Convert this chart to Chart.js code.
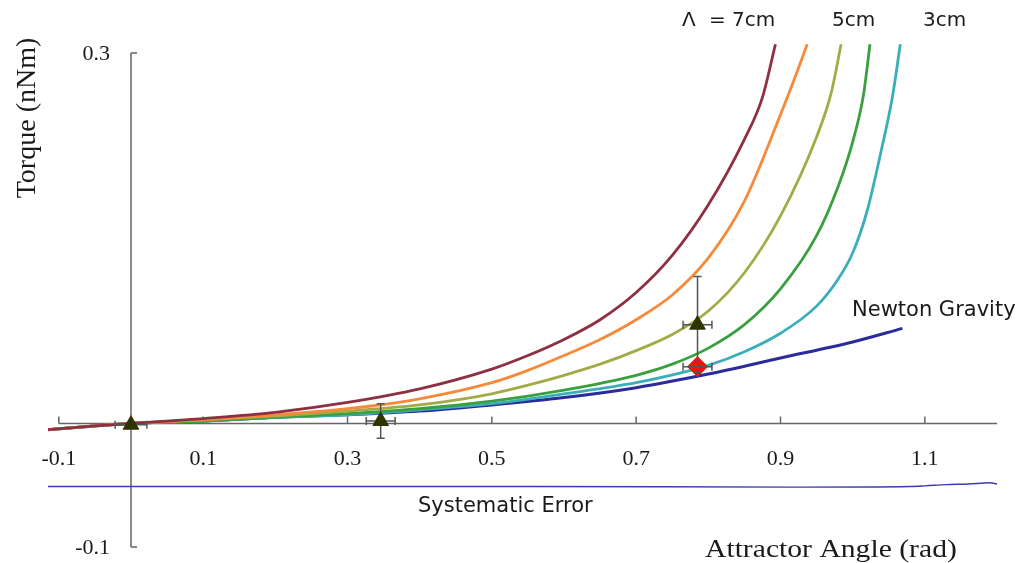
<!DOCTYPE html>
<html>
<head>
<meta charset="utf-8">
<script src="https://cdn.jsdelivr.net/npm/chart.js@4"></script>
<style>
  body { margin: 0; background: #fff; }
  canvas { display: block; }
</style>
</head>
<body>
<canvas id="c" width="1021" height="563"></canvas>
<script>
// tick labels
var xTicks = [-0.1, 0.1, 0.3, 0.5, 0.7, 0.9, 1.1];
var yTicks = [0.3, -0.1];

// Yukawa curves, lambda = 7cm ... 3cm
var lam7X = [-0.115, -0.05, 0, 0.1, 0.2, 0.3, 0.4, 0.5, 0.55, 0.6, 0.65, 0.7, 0.75, 0.8, 0.85, 0.875, 0.893];
var lam7Y = [-0.005, -0.002, 0, 0.004, 0.009, 0.017, 0.028, 0.044, 0.055, 0.068, 0.084, 0.106, 0.136, 0.177, 0.230, 0.264, 0.307];
var lam6X = [-0.115, -0.05, 0, 0.1, 0.2, 0.3, 0.4, 0.5, 0.55, 0.6, 0.65, 0.7, 0.75, 0.8, 0.85, 0.9, 0.92, 0.937];
var lam6Y = [-0.005, -0.002, 0, 0.003, 0.007, 0.012, 0.020, 0.033, 0.043, 0.055, 0.068, 0.084, 0.104, 0.134, 0.180, 0.250, 0.280, 0.307];
var lam5X = [-0.115, -0.05, 0, 0.1, 0.2, 0.3, 0.4, 0.5, 0.55, 0.6, 0.65, 0.7, 0.75, 0.8, 0.85, 0.9, 0.95, 0.97, 0.984];
var lam5Y = [-0.005, -0.002, 0, 0.003, 0.006, 0.010, 0.015, 0.024, 0.031, 0.039, 0.048, 0.059, 0.072, 0.091, 0.122, 0.168, 0.232, 0.267, 0.307];
var lam4X = [-0.115, -0.05, 0, 0.1, 0.2, 0.3, 0.4, 0.5, 0.6, 0.7, 0.75, 0.8, 0.85, 0.9, 0.95, 0.98, 1.0, 1.015, 1.024];
var lam4Y = [-0.005, -0.002, 0, 0.002, 0.005, 0.008, 0.012, 0.018, 0.027, 0.039, 0.048, 0.061, 0.080, 0.109, 0.152, 0.192, 0.228, 0.266, 0.307];
var lam3X = [-0.115, -0.05, 0, 0.1, 0.2, 0.3, 0.4, 0.5, 0.6, 0.7, 0.8, 0.85, 0.9, 0.95, 0.98, 1.0, 1.02, 1.04, 1.055, 1.066];
var lam3Y = [-0.005, -0.002, 0, 0.002, 0.005, 0.007, 0.011, 0.016, 0.024, 0.033, 0.047, 0.058, 0.073, 0.095, 0.117, 0.138, 0.172, 0.222, 0.264, 0.307];

var newtonX = [-0.115, -0.05, 0, 0.1, 0.2, 0.3, 0.4, 0.5, 0.6, 0.7, 0.8, 0.9, 1.0, 1.069];
var newtonY = [-0.005, -0.002, 0, 0.002, 0.005, 0.007, 0.010, 0.015, 0.021, 0.029, 0.040, 0.053, 0.066, 0.077];

var sysX = [-0.115, 0.55, 0.92, 1.08, 1.1, 1.13, 1.16, 1.19, 1.2];
var sysY = [-0.051, -0.051, -0.0515, -0.051, -0.0505, -0.0495, -0.049, -0.048, -0.049];

// measurements
var measX = [0, 0.346, 0.785];
var measY = [-0.001, 0.002, 0.080];
var measXErr = [0.022, 0.02, 0.02];
var measYErr = [0, 0.014, 0.039];
var diamondX = [0.785];
var diamondY = [0.046];
var diamondXErr = [0.02];

function pts(xs, ys) {
    return xs.map(function (x, i) { return {x: x, y: ys[i]}; });
}

function curve(label, xs, ys, color, width) {
    return {
        label: label,
        data: pts(xs, ys),
        borderColor: color,
        borderWidth: width,
        pointRadius: 0,
        fill: false,
        cubicInterpolationMode: 'monotone',
        showLine: true
    };
}

var serif = '"Liberation Serif", "DejaVu Serif", serif';
var sans = '"DejaVu Sans", sans-serif';

function text(ctx, str, x, y, font, align, stretch) {
    ctx.save();
    ctx.font = font;
    ctx.fillStyle = '#1a1a1a';
    ctx.textAlign = align || 'left';
    ctx.textBaseline = 'middle';
    ctx.translate(x, y);
    ctx.scale(stretch || 1, 1);
    ctx.fillText(str, 0, 0);
    ctx.restore();
}

var axesPlugin = {
    id: 'axes',
    beforeDatasetsDraw: function (chart) {
        var ctx = chart.ctx, sx = chart.scales.x, sy = chart.scales.y;
        var x0 = sx.getPixelForValue(0), y0 = sy.getPixelForValue(0);
        ctx.save();
        ctx.strokeStyle = '#666';
        ctx.lineWidth = 1.5;
        ctx.beginPath();
        ctx.moveTo(sx.getPixelForValue(-0.1), y0);
        ctx.lineTo(chart.chartArea.right, y0);
        xTicks.forEach(function (t) {
            var px = sx.getPixelForValue(t);
            ctx.moveTo(px, y0);
            ctx.lineTo(px, y0 - 7);
        });
        ctx.moveTo(x0, sy.getPixelForValue(yTicks[0]));
        ctx.lineTo(x0, sy.getPixelForValue(yTicks[1]));
        yTicks.forEach(function (t) {
            var py = sy.getPixelForValue(t);
            ctx.moveTo(x0, py);
            ctx.lineTo(x0 + 6, py);
        });
        ctx.stroke();
        ctx.restore();
    },
    beforeDatasetDraw: function (chart, args) {
        if (args.index !== 0) return;
        var ctx = chart.ctx, sx = chart.scales.x, sy = chart.scales.y;
        ctx.save();
        ctx.strokeStyle = '#555';
        ctx.lineWidth = 1.5;
        ctx.beginPath();
        function hbar(x, y, e) {
            var py = sy.getPixelForValue(y);
            var a = sx.getPixelForValue(x - e), b = sx.getPixelForValue(x + e);
            ctx.moveTo(a, py); ctx.lineTo(b, py);
            ctx.moveTo(a, py - 4); ctx.lineTo(a, py + 4);
            ctx.moveTo(b, py - 4); ctx.lineTo(b, py + 4);
        }
        function vbar(x, y, e) {
            if (!e) return;
            var px = sx.getPixelForValue(x);
            var a = sy.getPixelForValue(y - e), b = sy.getPixelForValue(y + e);
            ctx.moveTo(px, a); ctx.lineTo(px, b);
            ctx.moveTo(px - 4, a); ctx.lineTo(px + 4, a);
            ctx.moveTo(px - 4, b); ctx.lineTo(px + 4, b);
        }
        measX.forEach(function (x, i) {
            hbar(x, measY[i], measXErr[i]);
            vbar(x, measY[i], measYErr[i]);
        });
        diamondX.forEach(function (x, i) { hbar(x, diamondY[i], diamondXErr[i]); });
        ctx.stroke();
        ctx.restore();
    },
    afterDraw: function (chart) {
        var ctx = chart.ctx, sx = chart.scales.x, sy = chart.scales.y;
        var x0 = sx.getPixelForValue(0), y0 = sy.getPixelForValue(0);
        xTicks.forEach(function (t) {
            text(ctx, String(t), sx.getPixelForValue(t), y0 + 36, '22px ' + serif, 'center');
        });
        yTicks.forEach(function (t) {
            text(ctx, String(t), x0 - 21, sy.getPixelForValue(t) + 1, '22px ' + serif, 'right');
        });
        text(ctx, 'Attractor Angle (rad)', 705, 550, '26px ' + serif, 'left', 1.14);
        ctx.save();
        ctx.translate(28, 118);
        ctx.rotate(-Math.PI / 2);
        text(ctx, 'Torque (nNm)', 0, 0, '28px ' + serif, 'center');
        ctx.restore();
        text(ctx, '\u039B', 682, 21, '20px ' + sans, 'left');
        text(ctx, '= 7cm', 709, 21, '20px ' + sans, 'left');
        text(ctx, '5cm', 832, 21, '20px ' + sans, 'left');
        text(ctx, '3cm', 923, 21, '20px ' + sans, 'left');
        text(ctx, 'Newton Gravity', 852, 311, '21px ' + sans, 'left');
        text(ctx, 'Systematic Error', 418, 507, '21px ' + sans, 'left');
    }
};

new Chart(document.getElementById('c'), {
    type: 'scatter',
    data: {
        datasets: [
            {
                label: 'data',
                data: pts(measX, measY),
                pointStyle: 'triangle',
                pointRadius: 9,
                backgroundColor: '#2f3300',
                borderColor: '#2f3300',
                borderWidth: 1,
                showLine: false
            },
            {
                label: 'diamond',
                data: pts(diamondX, diamondY),
                pointStyle: 'rectRot',
                pointRadius: 10,
                backgroundColor: '#ff0a0a',
                borderColor: '#ff0a0a',
                borderWidth: 1,
                showLine: false
            },
            curve('7cm', lam7X, lam7Y, '#8e2f42', 2.8),
            curve('6cm', lam6X, lam6Y, '#f7893b', 2.8),
            curve('5cm', lam5X, lam5Y, '#a2ab46', 2.8),
            curve('4cm', lam4X, lam4Y, '#3aa03f', 2.8),
            curve('3cm', lam3X, lam3Y, '#3aafb8', 2.8),
            curve('Newton Gravity', newtonX, newtonY, '#2b2b9c', 3),
            curve('Systematic Error', sysX, sysY, '#3c3cb0', 1.4)
        ]
    },
    options: {
        responsive: false,
        animation: false,
        layout: {padding: {left: 48, right: 24, top: 43, bottom: 16}},
        plugins: {legend: {display: false}, tooltip: {enabled: false}},
        scales: {
            x: {type: 'linear', min: -0.115, max: 1.2, display: false},
            y: {type: 'linear', min: -0.1, max: 0.308, display: false}
        }
    },
    plugins: [axesPlugin]
});
</script>
</body>
</html>
